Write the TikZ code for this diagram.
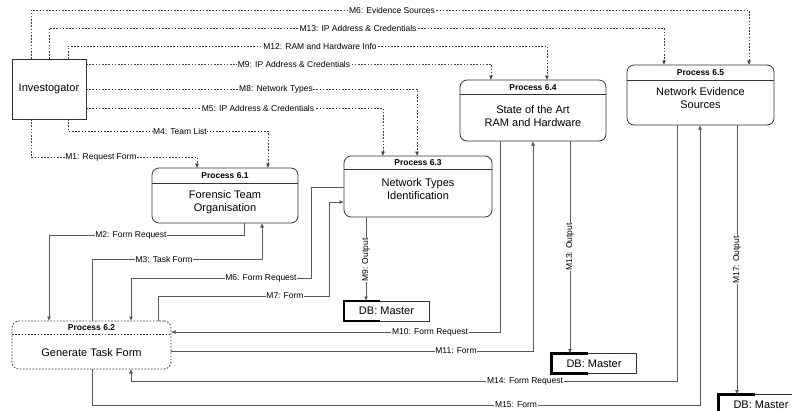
\documentclass[tikz,border=0pt]{standalone}
\usepackage{fontspec}
\setmainfont{Liberation Sans}
\usetikzlibrary{arrows.meta,calc}
\begin{document}
\begin{tikzpicture}[x=1pt,y=-1pt,
  proc/.style={draw=black!80, line width=0.8pt, rounded corners=7pt, inner sep=0pt, outer sep=0pt},
  entity/.style={draw=black!80, line width=0.8pt, inner sep=0pt, outer sep=0pt,
    minimum width=74pt, minimum height=60pt, font=\fontsize{11}{13}\selectfont},
  sep/.style={draw=black!80, line width=0.8pt},
  hdr/.style={font=\fontsize{8.5}{10}\selectfont\bfseries, inner sep=0pt},
  body/.style={font=\fontsize{11}{12.5}\selectfont, align=center, inner sep=0pt},
  db/.style={draw=black!80, line width=0.7pt, inner sep=0pt, outer sep=0pt,
    minimum width=85pt, minimum height=20pt, font=\fontsize{11}{13}\selectfont},
  dbedge/.style={draw=black, line width=2.6pt},
  msg/.style={draw=black!75, line width=0.6pt, dash pattern=on 1.6pt off 1.6pt,
    -{Latex[length=4.5pt,width=4pt]}},
  flow/.style={draw=black!65, line width=0.75pt, -{Latex[length=4.5pt,width=4pt]}},
  plain/.style={draw=black!65, line width=0.75pt},
  lbl/.style={fill=white, inner sep=0.6pt, font=\fontsize{8.5}{10}\selectfont}
]
\useasboundingbox (0,0) rectangle (792,410);

% external entity
\node[entity] (inv) at (49,89) {Investogator};

% processes
\node[proc, minimum width=146pt, minimum height=55pt] (p61) at (225,195.5) {};
\node[proc, minimum width=159pt, minimum height=48pt, dash pattern=on 1.6pt off 1.6pt] (p62) at (91.5,345) {};
\node[proc, minimum width=148pt, minimum height=61pt] (p63) at (418,186.5) {};
\node[proc, minimum width=146pt, minimum height=61pt] (p64) at (533,110.5) {};
\node[proc, minimum width=147pt, minimum height=60pt] (p65) at (700.5,95) {};

% header separators
\draw[sep] ($(p61.north west)+(0,15)$) -- ($(p61.north east)+(0,15)$);
\draw[sep, dash pattern=on 1.6pt off 1.6pt] ($(p62.north west)+(0,13)$) -- ($(p62.north east)+(0,13)$);
\draw[sep] ($(p63.north west)+(0,13)$) -- ($(p63.north east)+(0,13)$);
\draw[sep] ($(p64.north west)+(0,14)$) -- ($(p64.north east)+(0,14)$);
\draw[sep] ($(p65.north west)+(0,15)$) -- ($(p65.north east)+(0,15)$);

% headers and titles
\node[hdr] (h61) at (225,176) {Process 6.1};
\node[hdr] (h62) at (91.5,328) {Process 6.2};
\node[hdr] (h63) at (418,163) {Process 6.3};
\node[hdr] (h64) at (533,87.5) {Process 6.4};
\node[hdr] (h65) at (700.5,72.5) {Process 6.5};
\node[body] (t61) at (225,202) {Forensic Team\\Organisation};
\node[body] (t62) at (91.5,353) {Generate Task Form};
\node[body] (t63) at (418,189) {Network Types\\Identification};
\node[body] (t64) at (533,116) {State of the Art\\RAM and Hardware};
\node[body] (t65) at (700.5,98) {Network Evidence\\Sources};

% data stores
\node[db] (db1) at (386.5,311) {DB: Master};
\node[db] (db2) at (594,363.5) {DB: Master};
\node[db] (db3) at (761,404.5) {DB: Master};
\foreach \d in {db1,db2,db3}
  \draw[dbedge] ($(\d.north west)+(36,0)$) -- (\d.north west) -- (\d.south west) -- ($(\d.south west)+(36,0)$);

% messages from the investigator
\draw[msg] (31,0 |- inv.north) -- (31,10) -- (749,10) -- (749,0 |- p65.north);
\draw[msg] (49,0 |- inv.north) -- (49,28) -- (664,28) -- (664,0 |- p65.north);
\draw[msg] (68,0 |- inv.north) -- (68,46) -- (547,46) -- (547,0 |- p64.north);
\draw[msg] (inv.east |- 0,64) -- (491,64) -- (491,0 |- p64.north);
\draw[msg] (inv.east |- 0,89) -- (417,89) -- (417,0 |- p63.north);
\draw[msg] (inv.east |- 0,108) -- (383,108) -- (383,0 |- p63.north);
\draw[msg] (68,0 |- inv.south) -- (68,131) -- (268,131) -- (268,0 |- p61.north);
\draw[msg] (31,0 |- inv.south) -- (31,157) -- (197,157) -- (197,0 |- p61.north);

\node[lbl] (m6) at (392,10) {M6: Evidence Sources};
\node[lbl] (m13) at (358,28) {M13: IP Address \& Credentials};
\node[lbl] (m12) at (320,46) {M12: RAM and Hardware Info};
\node[lbl] (m9) at (294,64) {M9: IP Address \& Credentials};
\node[lbl] (m8) at (276,89) {M8: Network Types};
\node[lbl] (m5) at (258,108) {M5: IP Address \& Credentials};
\node[lbl] (m4) at (180,131) {M4: Team List};
\node[lbl] (m1) at (101,157) {M1: Request Form};

% flows between processes
\draw[flow] (244,0 |- p61.south) -- (244,235) -- (49,235) -- (49,0 |- p62.north);
\draw[flow] (92,0 |- p62.north) -- (92,259) -- (262,259) -- (262,0 |- p61.south);
\draw[flow] (p63.west |- 0,187) -- (311,187) -- (311,278) -- (131,278) -- (131,0 |- p62.north);
\draw[flow] (158,0 |- p62.north) -- (158,296) -- (329,296) -- (329,202) -- (p63.west |- 0,202);
\draw[flow] (366,0 |- p63.south) -- (366,0 |- db1.north);
\draw[flow] (500,0 |- p64.south) -- (500,332) -- (p62.east |- 0,332);
\draw[flow] (p62.east |- 0,351) -- (533,351) -- (533,0 |- p64.south);
\draw[flow] (570,0 |- p64.south) -- (570,0 |- db2.north);
\draw[flow] (677,0 |- p65.south) -- (677,381) -- (131,381) -- (131,0 |- p62.south);
\draw[flow] (92,0 |- p62.south) -- (92,405) -- (700,405) -- (700,0 |- p65.south);
\draw[flow] (737,0 |- p65.south) -- (737,0 |- db3.north);

\node[lbl] (f2) at (131,235) {M2: Form Request};
\node[lbl] (f3) at (164,259) {M3: Task Form};
\node[lbl] (f6) at (261,278) {M6: Form Request};
\node[lbl] (f7) at (285,296) {M7: Form};
\node[lbl, rotate=90] (o9) at (366,260) {M9: Output};
\node[lbl] (f10) at (430,332) {M10: Form Request};
\node[lbl] (f11) at (456,351) {M11: Form};
\node[lbl, rotate=90] (o13) at (570,247) {M13: Output};
\node[lbl] (f14) at (525,381) {M14: Form Request};
\node[lbl] (f15) at (516,405) {M15: Form};
\node[lbl, rotate=90] (o17) at (737,260) {M17: Output};
\end{tikzpicture}
\end{document}
